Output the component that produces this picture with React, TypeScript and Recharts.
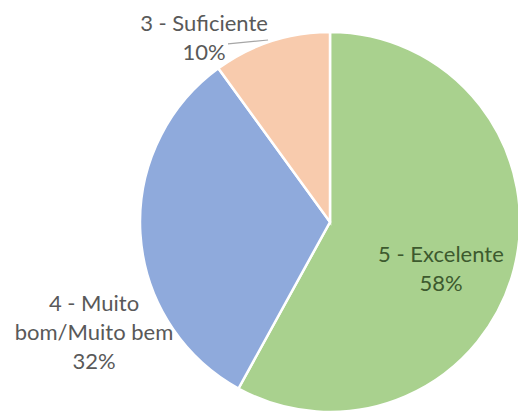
import { Cell, Pie, PieChart } from "recharts";

const CATEGORIES = ["5 - Excelente", "4 - Muito bom/Muito bem", "3 - Suficiente"];
const VALUES = [58, 32, 10];
const LABEL_LINES = [["5 - Excelente"], ["4 - Muito", "bom/Muito bem"], ["3 - Suficiente"]];

const COLORS = ["#a9d18e", "#8faadc", "#f8cbad"];
const TEXT_COLORS = ["#3d5a2e", "#595959", "#595959"];

// label anchor (centre x, first baseline) as a fraction of the radius from the pie centre
const LABEL_POS = [
  { x: 0.584, y: 0.211 },
  { x: -1.242, y: 0.468 },
  { x: -0.663, y: -1.005 },
];
// leader line for the small slice only
const LEADER = { index: 2, from: { x: -0.537, y: -0.937 }, to: { x: -0.326, y: -0.958 } };

const data = CATEGORIES.map((name, i) => ({ name, value: VALUES[i] }));

const FONT = "Lato, 'Open Sans', sans-serif";
const LINE_H = 29;

function renderLabel(props: any) {
  const { cx, cy, outerRadius, index, percent } = props;
  const pos = LABEL_POS[index];
  const x = cx + pos.x * outerRadius;
  const y = cy + pos.y * outerRadius;
  const lines = [...LABEL_LINES[index], `${Math.round(percent * 100)}%`];
  return (
    <g key={`lbl-${index}`}>
      {LEADER.index === index && (
        <line
          x1={cx + LEADER.from.x * outerRadius}
          y1={cy + LEADER.from.y * outerRadius}
          x2={cx + LEADER.to.x * outerRadius}
          y2={cy + LEADER.to.y * outerRadius}
          stroke="#a6a6a6"
          strokeWidth={1.2}
        />
      )}
      <text x={x} y={y} textAnchor="middle" fill={TEXT_COLORS[index]} fontFamily={FONT} fontSize={22}>
        {lines.map((t, i) => (
          <tspan key={i} x={x} y={y + i * LINE_H}>
            {t}
          </tspan>
        ))}
      </text>
    </g>
  );
}

export default function App() {
  return (
    <div style={{ position: "absolute", left: 0, top: 0, width: 518, height: 412, background: "#fff" }}>
      <PieChart width={518} height={412} margin={{ top: 0, right: 0, bottom: 0, left: 0 }}>
        <Pie
          data={data}
          dataKey="value"
          nameKey="name"
          cx={330}
          cy={222}
          outerRadius={190}
          startAngle={90}
          endAngle={-270}
          stroke="#ffffff"
          strokeWidth={2.5}
          label={renderLabel}
          labelLine={false}
          isAnimationActive={false}
        >
          {data.map((d, i) => (
            <Cell key={d.name} fill={COLORS[i]} />
          ))}
        </Pie>
      </PieChart>
    </div>
  );
}
